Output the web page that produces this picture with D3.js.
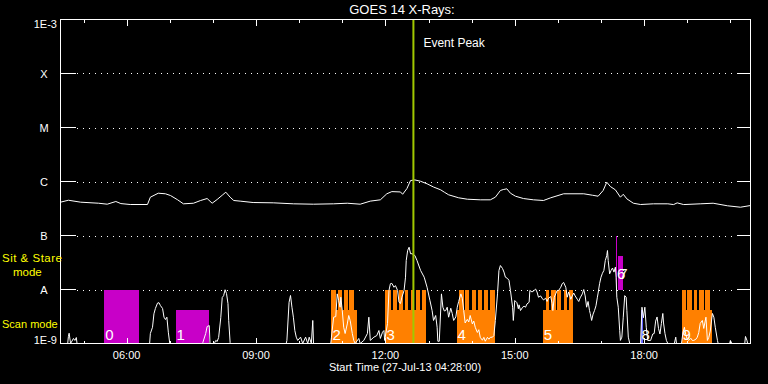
<!DOCTYPE html>
<html><head><meta charset="utf-8">
<script src="https://cdn.jsdelivr.net/npm/d3@7"></script>
<style>html,body{margin:0;padding:0;background:#000;}svg{display:block}</style>
</head><body><svg id="c" width="768" height="384"></svg>
<script>
// ---------- data ----------
const chartTitle = "GOES 14 X-Rays:";
const xAxisTitle = "Start Time (27-Jul-13 04:28:00)";
const obsDate = "2013-07-27";
const startTime = "04:28", endTime = "20:28";
const yTickValues = [1e-9, 1e-8, 1e-7, 1e-6, 1e-5, 1e-4, 1e-3];
const yTickLabels = ["1E-9", "A", "B", "C", "M", "X", "1E-3"];
const peakTime = "12:39";
const peakLabel = "Event Peak";
const modeLabelStare = ["Sit & Stare", "mode"];
const modeLabelScan = ["Scan mode"];
const modeLevels = { stare: 1e-8, scan: 4.1e-9 };

// observation blocks
const obsIds     = ["0", "1", "2", "3", "4", "5", "6", "7", "8", "9"];
const obsStart   = ["05:29","07:08","10:45","12:00","13:39","15:39","17:21","17:24","17:55","18:52"];
const obsEnd     = ["06:17","07:55","11:21","12:57","14:32","16:21","17:22","17:30","17:58","19:35"];
const obsMode    = ["stare","scan","scan","scan","scan","scan","stare","scan","scan","scan"];
const obsProgram = ["A","A","B","B","B","B","A","A","C","B"];
const obsDecade  = [0,0,0,0,0,0,1,1,0,0];
// sit & stare sub-intervals inside the mixed blocks: [block, start, end]
const stareSegments = [
  [2,"10:45","10:51"],[2,"10:54","10:59"],[2,"11:02","11:08"],[2,"11:10","11:16"],
  [3,"12:00","12:08"],[3,"12:11","12:16"],[3,"12:19","12:24"],[3,"12:27","12:32"],
  [3,"12:35","12:40"],[3,"12:43","12:48"],[3,"12:51","12:57"],
  [4,"13:43","13:49"],[4,"13:51","13:57"],[4,"14:00","14:06"],[4,"14:09","14:15"],
  [4,"14:17","14:23"],[4,"14:26","14:32"],
  [5,"15:43","15:48"],[5,"15:51","15:57"],[5,"15:59","16:05"],[5,"16:08","16:13"],[5,"16:16","16:21"],
  [9,"18:52","18:58"],[9,"19:00","19:06"],[9,"19:09","19:14"],[9,"19:17","19:23"],[9,"19:25","19:31"]
];

// GOES long channel (1-8 A), W/m^2
const xrsLong = [
 ["04:28",4.14e-7],["04:39",4.5e-7],["04:56",4.14e-7],["05:21",3.96e-7],["05:33",3.8e-7],
 ["05:45",4.26e-7],["05:52",3.9e-7],["06:05",3.75e-7],["06:29",3.75e-7],["06:33",5.12e-7],
 ["06:44",6.07e-7],["06:54",5.92e-7],["07:01",5.5e-7],["07:11",4.58e-7],["07:19",3.86e-7],
 ["07:33",3.96e-7],["07:43",4.45e-7],["07:52",4.84e-7],["07:59",3.96e-7],["08:06",4.65e-7],
 ["08:13",5.57e-7],["08:18",6.34e-7],["08:24",5.12e-7],["08:29",4.45e-7],["08:38",4.33e-7],
 ["08:56",4.08e-7],["09:24",4.03e-7],["09:52",3.86e-7],["10:20",3.8e-7],["10:48",3.86e-7],
 ["11:07",3.96e-7],["11:25",3.8e-7],["11:39",4.33e-7],["11:53",4.58e-7],["12:02",5.92e-7],
 ["12:09",6.5e-7],["12:21",6.4e-7],["12:24",5.8e-7],["12:30",7.4e-7],["12:35",1.04e-6],
 ["12:41",1.07e-6],["12:49",1.01e-6],["12:58",9.06e-7],["13:07",7.9e-7],["13:17",7.0e-7],
 ["13:22",6.34e-7],["13:28",5.67e-7],["13:42",4.99e-7],["13:54",4.7e-7],["14:12",4.58e-7],
 ["14:26",4.58e-7],["14:33",5.12e-7],["14:40",6.81e-7],["14:44",7.1e-7],["14:49",7.32e-7],
 ["14:54",6.07e-7],["15:01",5.34e-7],["15:12",4.84e-7],["15:26",4.58e-7],["15:40",4.45e-7],
 ["15:50",4.99e-7],["16:08",5.92e-7],["16:36",5.92e-7],["16:48",5.57e-7],["16:56",5.34e-7],
 ["17:03",6.81e-7],["17:08",9.71e-7],["17:13",8.07e-7],["17:20",7.01e-7],["17:27",5.12e-7],
 ["17:31",5.8e-7],["17:36",4.77e-7],["17:45",3.96e-7],["17:55",3.75e-7],["18:13",3.86e-7],
 ["18:33",3.86e-7],["18:41",3.74e-7],["18:46",4.02e-7],["18:55",3.74e-7],["19:18",3.86e-7],
 ["19:36",3.96e-7],["19:56",3.55e-7],["20:14",3.34e-7],["20:28",3.59e-7]
];

// GOES short channel (0.5-4 A), W/m^2
const xrsShort = [
 ["04:28",1e-9],["04:38",1e-9],["04:39",1.35e-9],["04:40",1.55e-9],["04:42",1e-9],["04:46",1.24e-9],
 ["04:48",1.14e-9],["04:50",1.29e-9],["04:51",1e-9],["06:32",1e-9],["06:33",1.53e-9],["06:36",2.0e-9],
 ["06:38",3.55e-9],["06:40",4.45e-9],["06:43",5.6e-9],["06:45",5.7e-9],["06:47",5.05e-9],["06:50",4.45e-9],
 ["06:52",3.07e-9],["06:54",2.78e-9],["06:56",3.07e-9],["06:58",1.62e-9],["07:00",1e-9],["07:45",1e-9],
 ["07:46",1.04e-9],["07:50",1.53e-9],["07:52",2.06e-9],["07:55",2.15e-9],["07:56",1e-9],["08:02",1e-9],
 ["08:04",1.14e-9],["08:06",1.09e-9],["08:08",1.29e-9],["08:11",3.0e-9],["08:13",7.1e-9],["08:15",7.7e-9],
 ["08:17",9.9e-9],["08:19",8.4e-9],["08:21",5.5e-9],["08:22",2.67e-9],["08:24",1.04e-9],["08:25",1e-9],
 ["09:42",1e-9],["09:43",1.14e-9],["09:46",5.8e-9],["09:48",7.75e-9],["09:50",4.7e-9],["09:52",3.07e-9],
 ["09:54",1.74e-9],["09:56",1.31e-9],["09:58",1.14e-9],["10:02",1.31e-9],["10:05",1e-9],["10:09",1.31e-9],
 ["10:12",1e-9],["10:14",1.31e-9],["10:17",1e-9],["10:19",2.67e-9],["10:20",1e-9],["10:44",1e-9],
 ["10:45",1.31e-9],["10:48",3.07e-9],["10:51",3.15e-9],["10:53",8.3e-9],["10:55",6.25e-9],["10:57",4.7e-9],
 ["10:58",7.2e-9],["11:00",4.08e-9],["11:02",2.0e-9],["11:04",1.53e-9],["11:07",2.3e-9],["11:09",3.3e-9],
 ["11:11",2.67e-9],["11:14",1.53e-9],["11:16",1.14e-9],["11:18",1e-9],["11:23",1.24e-9],["11:25",1e-9],
 ["11:30",1.14e-9],["11:35",1.53e-9],["11:37",3.07e-9],["11:39",1.14e-9],["11:44",1.31e-9],["11:48",1.4e-9],
 ["11:51",1.74e-9],["11:53",1.24e-9],["11:56",1.62e-9],["11:58",1.74e-9],["11:59",1.14e-9],["12:03",2.35e-9],
 ["12:05",9.6e-9],["12:07",1.28e-8],["12:09",1.3e-8],["12:12",1.1e-8],["12:14",1.18e-8],["12:17",9.6e-9],
 ["12:19",5.8e-9],["12:21",5.5e-9],["12:23",7.2e-9],["12:26",9.6e-9],["12:28",1.69e-8],["12:29",3.44e-8],
 ["12:31",5.27e-8],["12:33",6.07e-8],["12:35",4.6e-8],["12:37",4.6e-8],["12:41",4.26e-8],["12:44",3.44e-8],
 ["12:49",2.25e-8],["12:54",1.69e-8],["12:58",1.1e-8],["13:02",6.25e-9],["13:05",4.08e-9],["13:07",2.67e-9],
 ["13:10",3.3e-9],["13:12",2.0e-9],["13:13",1.1e-9],["13:15",1.1e-9],["13:18",8.3e-9],["13:20",4.7e-9],
 ["13:22",4.0e-9],["13:24",4.08e-9],["13:26",4.7e-9],["13:28",3.07e-9],["13:31",4.5e-9],["13:33",3.6e-9],
 ["13:35",2.67e-9],["13:38",3.1e-9],["13:40",4.7e-9],["13:42",6.0e-9],["13:45",8.3e-9],["13:47",6.9e-9],
 ["13:49",4.08e-9],["13:51",2.4e-9],["13:54",2.8e-9],["13:56",2.5e-9],["13:58",3.3e-9],["14:01",2.3e-9],
 ["14:03",2.6e-9],["14:05",2.0e-9],["14:08",1.6e-9],["14:10",1.8e-9],["14:12",1.3e-9],["14:15",1.15e-9],
 ["14:17",1.3e-9],["14:19",1.1e-9],["14:22",1.3e-9],["14:24",1.2e-9],["14:26",1.3e-9],["14:29",1.31e-9],
 ["14:31",1.4e-9],["14:33",2.67e-9],["14:36",8.3e-9],["14:38",2.25e-8],["14:40",2.78e-8],["14:43",2.45e-8],
 ["14:45",2.1e-8],["14:47",1.69e-8],["14:50",1.6e-8],["14:52",1.47e-8],["14:54",9.6e-9],["14:57",4.7e-9],
 ["14:58",2.67e-9],["15:00",6.25e-9],["15:03",5.7e-9],["15:05",4.4e-9],["15:06",5.2e-9],["15:08",4.08e-9],
 ["15:11",4.7e-9],["15:13",4.9e-9],["15:15",4.7e-9],["15:17",5.4e-9],["15:20",5.8e-9],["15:21",9.6e-9],
 ["15:24",9.0e-9],["15:27",9.6e-9],["15:29",1.02e-8],["15:31",9.0e-9],["15:33",7.2e-9],["15:36",7.6e-9],
 ["15:38",6.9e-9],["15:40",6.4e-9],["15:43",6.9e-9],["15:45",6.0e-9],["15:47",6.9e-9],["15:50",7.4e-9],
 ["15:52",5.5e-9],["15:53",4.08e-9],["15:55",7.2e-9],["15:57",8.3e-9],["15:59",9.6e-9],["16:01",9.6e-9],
 ["16:04",1.1e-8],["16:06",1.28e-8],["16:08",1.35e-8],["16:11",1.1e-8],["16:13",7.2e-9],["16:15",9.0e-9],
 ["16:18",6.6e-9],["16:20",7.6e-9],["16:22",8.6e-9],["16:24",7.6e-9],["16:27",6.6e-9],["16:29",6.0e-9],
 ["16:31",7.0e-9],["16:34",8.3e-9],["16:36",1.0e-8],["16:38",7.6e-9],["16:40",4.7e-9],["16:42",6.0e-9],
 ["16:44",4.08e-9],["16:45",3.6e-9],["16:47",2.67e-9],["16:49",3.5e-9],["16:51",4.08e-9],["16:53",5.0e-9],
 ["16:55",7.2e-9],["16:56",8.6e-9],["16:58",1.28e-8],["17:00",1.69e-8],["17:02",2.0e-8],["17:04",2.25e-8],
 ["17:06",3.44e-8],["17:08",4.26e-8],["17:09",5.27e-8],["17:10",3.44e-8],["17:12",1.95e-8],["17:14",2.25e-8],
 ["17:16",2.5e-8],["17:18",2.1e-8],["17:20",2.6e-8],["17:21",1.69e-8],["17:22",7.2e-9],["17:24",4.7e-9],
 ["17:26",1.74e-9],["17:27",1.14e-9],["17:29",1.31e-9],["17:31",3.07e-9],["17:33",7.7e-9],["17:35",7.2e-9],
 ["17:36",4.08e-9],["17:38",1.31e-9],["17:40",1e-9],["17:55",1e-9],["17:57",4.7e-9],["17:59",3.0e-9],
 ["18:01",4.7e-9],["18:03",2.0e-9],["18:05",1.14e-9],["18:09",1.14e-9],["18:12",1.5e-9],["18:14",1.53e-9],
 ["18:16",2.6e-9],["18:18",3.1e-9],["18:20",1.9e-9],["18:22",1.5e-9],["18:24",2.35e-9],["18:26",3.6e-9],
 ["18:27",2.4e-9],["18:29",1.53e-9],["18:31",1.14e-9],["18:33",1e-9],["18:42",1e-9],["18:44",1.31e-9],
 ["18:45",1e-9],["18:52",1e-9],["18:54",1.6e-9],["18:56",2.0e-9],["18:58",1.45e-9],["19:00",1.2e-9],
 ["19:02",1.14e-9],["19:05",1.25e-9],["19:07",1.14e-9],["19:09",1.14e-9],["19:12",1.2e-9],["19:14",1.31e-9],
 ["19:16",1.6e-9],["19:18",2.35e-9],["19:21",2.67e-9],["19:23",1.9e-9],["19:26",3.07e-9],["19:28",1.14e-9],
 ["19:30",1.3e-9],["19:32",1.7e-9],["19:35",3.6e-9],["19:37",3.07e-9],["19:39",2.0e-9],["19:42",1.14e-9],
 ["19:43",1e-9],["19:59",1e-9],["20:00",1.14e-9],["20:02",1e-9],["20:20",1e-9],["20:21",1.35e-9],
 ["20:23",1.15e-9],["20:24",1e-9],["20:28",1e-9]
];

// ---------- drawing ----------
const programColor = { A: "#c800c8", B: "#ff8000", C: "#6464ff" };
const FONT = "'Liberation Sans', Arial, sans-serif";
const parse = d3.utcParse("%Y-%m-%d %H:%M");
const T = s => parse(obsDate + " " + s);

const L = 60.5, R = 750.5, TOP = 19.5, BOT = 343.5;
const x = d3.scaleUtc().domain([T(startTime), T(endTime)]).range([L, R]);
const y = d3.scaleLog().domain([1e-9, 1e-3]).range([BOT, TOP]).clamp(true);

const svg = d3.select("#c");
svg.append("rect").attr("width", 768).attr("height", 384).attr("fill", "#000");

// grid (dotted)
svg.append("g").selectAll("line").data(yTickValues.slice(1, -1)).join("line")
  .attr("x1", 77).attr("x2", 736).attr("y1", d => Math.round(y(d)) + 0.5).attr("y2", d => Math.round(y(d)) + 0.5)
  .attr("stroke", "#fff").attr("stroke-width", 1).attr("stroke-dasharray", "1,5");

// observation blocks
const gBars = svg.append("g").attr("shape-rendering", "crispEdges");
const blocks = obsIds.map((id, i) => ({
  id, i, s: T(obsStart[i]), e: T(obsEnd[i]), mode: obsMode[i],
  color: programColor[obsProgram[i]], dec: Math.pow(10, obsDecade[i])
}));
gBars.selectAll("rect.base").data(blocks).join("rect").attr("class", "base")
  .attr("x", d => x(d.s))
  .attr("width", d => Math.max(1, x(d.e) - x(d.s)))
  .attr("y", d => y(modeLevels[d.mode] * d.dec))
  .attr("height", d => y(1e-9 * d.dec) - y(modeLevels[d.mode] * d.dec))
  .attr("fill", d => d.color);
gBars.selectAll("rect.tooth").data(stareSegments).join("rect").attr("class", "tooth")
  .attr("x", d => x(T(d[1])))
  .attr("width", d => x(T(d[2])) - x(T(d[1])))
  .attr("y", d => y(modeLevels.stare * blocks[d[0]].dec))
  .attr("height", d => y(1e-9 * blocks[d[0]].dec) - y(modeLevels.stare * blocks[d[0]].dec))
  .attr("fill", d => blocks[d[0]].color);

// curves
const line = d3.line().x(d => x(T(d[0]))).y(d => y(d[1]));
svg.append("path").datum(xrsLong).attr("d", line).attr("fill", "none").attr("stroke", "#fff").attr("stroke-width", 1);
svg.append("path").datum(xrsShort).attr("d", line).attr("fill", "none").attr("stroke", "#fff").attr("stroke-width", 1);

// block labels
svg.append("g").selectAll("text").data(blocks).join("text")
  .attr("x", d => x(d.s) + 1)
  .attr("y", d => y(1e-9 * d.dec) - (d.dec > 1 ? 11 : 4))
  .attr("fill", "#fff").attr("font-family", "'Liberation Sans Narrow', " + FONT).attr("font-size", 15)
  .text(d => d.id);

// event peak
svg.append("line").attr("x1", x(T(peakTime))).attr("x2", x(T(peakTime)))
  .attr("y1", TOP).attr("y2", BOT).attr("stroke", "#a0c800").attr("stroke-width", 2);
svg.append("text").attr("x", x(T(peakTime)) + 10).attr("y", 47).attr("fill", "#fff")
  .attr("font-family", FONT).attr("font-size", 12).text(peakLabel);

// frame and axes
const gAx = svg.append("g").attr("shape-rendering", "crispEdges").attr("stroke", "#fff").attr("fill", "none");
gAx.append("rect").attr("x", L).attr("y", TOP).attr("width", R - L).attr("height", BOT - TOP);
const minor = x.ticks(d3.utcHour.every(1));
const major = x.ticks(d3.utcHour.every(3));
const isMajor = d => major.some(m => +m === +d);
gAx.selectAll("line.tt").data(minor).join("line").attr("class", "tt")
  .attr("x1", d => Math.round(x(d)) + 0.5).attr("x2", d => Math.round(x(d)) + 0.5)
  .attr("y1", TOP).attr("y2", d => TOP + (isMajor(d) ? 6 : 3));
gAx.selectAll("line.bt").data(minor).join("line").attr("class", "bt")
  .attr("x1", d => Math.round(x(d)) + 0.5).attr("x2", d => Math.round(x(d)) + 0.5)
  .attr("y1", BOT).attr("y2", d => BOT - (isMajor(d) ? 6 : 3));
gAx.selectAll("line.lt").data(yTickValues).join("line").attr("class", "lt")
  .attr("x1", L).attr("x2", L + 15).attr("y1", d => Math.round(y(d) - 0.5) + 0.5).attr("y2", d => Math.round(y(d) - 0.5) + 0.5);
gAx.selectAll("line.rt").data(yTickValues).join("line").attr("class", "rt")
  .attr("x1", R - 14).attr("x2", R).attr("y1", d => Math.round(y(d) - 0.5) + 0.5).attr("y2", d => Math.round(y(d) - 0.5) + 0.5);

// x tick labels
const fmt = d3.utcFormat("%H:%M");
svg.append("g").selectAll("text").data(major).join("text")
  .attr("x", d => x(d)).attr("y", 359).attr("text-anchor", "middle")
  .attr("fill", "#fff").attr("font-family", FONT).attr("font-size", 11).text(d => fmt(d));

// y tick labels
svg.append("g").selectAll("text").data(yTickValues).join("text")
  .attr("x", (d, i) => yTickLabels[i].length > 1 ? 57 : 44)
  .attr("text-anchor", (d, i) => yTickLabels[i].length > 1 ? "end" : "middle")
  .attr("y", (d, i) => i === 0 ? y(d) : (i === yTickValues.length - 1 ? y(d) + 8.5 : y(d) + 4.5))
  .attr("fill", "#fff").attr("font-family", FONT).attr("font-size", 11)
  .text((d, i) => yTickLabels[i]);

// titles
svg.append("text").attr("x", 402).attr("y", 14).attr("text-anchor", "middle")
  .attr("fill", "#fff").attr("font-family", FONT).attr("font-size", 13).text(chartTitle);
svg.append("text").attr("x", 405).attr("y", 371).attr("text-anchor", "middle")
  .attr("fill", "#fff").attr("font-family", FONT).attr("font-size", 11).text(xAxisTitle);

// mode labels
svg.append("text").attr("x", 2).attr("y", 262).attr("fill", "#ffff00")
  .attr("font-family", FONT).attr("font-size", 11.5).attr("letter-spacing", 0.5).text(modeLabelStare[0]);
svg.append("text").attr("x", 13).attr("y", 276).attr("fill", "#ffff00")
  .attr("font-family", FONT).attr("font-size", 11.5).text(modeLabelStare[1]);
svg.append("text").attr("x", 2).attr("y", 328).attr("fill", "#ffff00")
  .attr("font-family", FONT).attr("font-size", 11).text(modeLabelScan[0]);
</script></body></html>
